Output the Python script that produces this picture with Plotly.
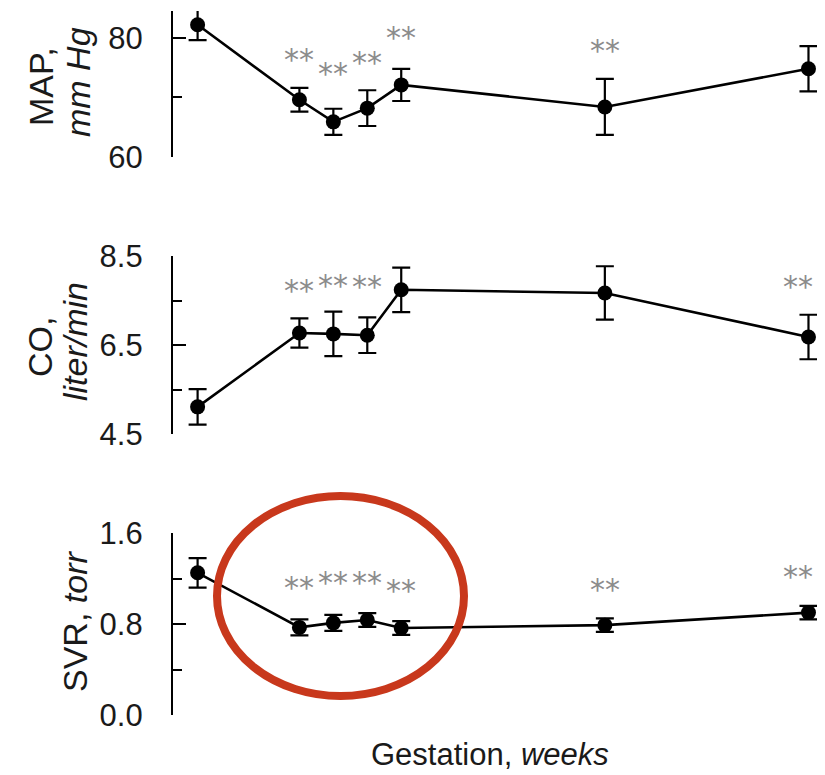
import plotly.graph_objects as go

# ---- data ----
weeks = [0, 6, 8, 10, 12, 24, 36]

map_mean = [82.2, 69.6, 65.9, 68.2, 72.1, 68.4, 74.8]
map_err = [2.6, 2.0, 2.2, 3.0, 2.7, 4.7, 3.8]
map_sig = [False, True, True, True, True, True, False]
map_star_y = [None, 77.3, 75.1, 76.8, 81.0, 78.8, None]

co_mean = [5.11, 6.77, 6.75, 6.72, 7.74, 7.67, 6.68]
co_err = [0.40, 0.33, 0.50, 0.40, 0.50, 0.60, 0.50]
co_sig = [False, True, True, True, True, True, True]
co_star_y = [None, 7.87, 7.98, 7.94, 8.97, 9.02, 7.96]

svr_mean = [1.25, 0.77, 0.81, 0.835, 0.765, 0.79, 0.90]
svr_err = [0.13, 0.07, 0.07, 0.06, 0.06, 0.06, 0.06]
svr_sig = [False, True, True, True, True, True, True]
svr_star_y = [None, 1.17, 1.22, 1.22, 1.15, 1.16, 1.27]

map_ticks = [60, 80]
map_minor = [70]
co_ticks = [4.5, 6.5, 8.5]
co_ticklabels = ["4.5", "6.5", "8.5"]
co_minor = [5.5, 7.5]
svr_ticks = [0.0, 0.8, 1.6]
svr_ticklabels = ["0.0", "0.8", "1.6"]
svr_minor = [0.4, 1.2]

# ---- layout helpers ----
OFF = 8                      # page body margin
W, H = 825 - OFF, 775 - OFF  # figure fills the window below/right of the body margin
ML = 173 - OFF               # y axis at page x = 173
PR = 819 - OFF               # plot right edge at page x = 819
MR = W - PR
PW = PR - ML
XR = [-1.45, 36.62]
VIS_RIGHT = 815              # keep text left of this page x
FONT = "Liberation Sans, Arial, Helvetica, sans-serif"
TXT = "#1a1a1a"
STAR = "#8c8c8c"
STAR_SIZE = 30


def px_x(p):
    return (p - OFF - ML) / PW


def px_y(p):
    return 1 - (p - OFF) / H


def week_to_px(w):
    return OFF + ML + (w - XR[0]) / (XR[1] - XR[0]) * PW


panels = [
    (map_mean, map_err, map_sig, map_star_y, "y", [60, 84.5], map_ticks, None, map_minor, (157, 11)),
    (co_mean, co_err, co_sig, co_star_y, "y2", [4.5, 8.5], co_ticks, co_ticklabels, co_minor, (434, 256)),
    (svr_mean, svr_err, svr_sig, svr_star_y, "y3", [0, 1.6], svr_ticks, svr_ticklabels, svr_minor, (715, 533)),
]

fig = go.Figure()
annotations = []
layout_axes = {}

for i, (mean, err, sig, stary, yref, rng, tv, tt, mv, (pb, pt)) in enumerate(panels):
    xname = "x" if i == 0 else f"x{i+1}"
    fig.add_trace(go.Scatter(
        x=weeks, y=mean, xaxis=xname, yaxis=yref,
        mode="lines+markers",
        line=dict(color="black", width=2.6),
        marker=dict(color="black", size=15, symbol="circle"),
        error_y=dict(type="data", array=err, visible=True, color="black", thickness=2.2, width=9),
        cliponaxis=False, showlegend=False, hoverinfo="skip",
    ))
    for w, s, sy in zip(weeks, sig, stary):
        if s:
            half = STAR_SIZE / 2
            xp = week_to_px(w)
            if xp + half > VIS_RIGHT:
                anchor, shift = "right", VIS_RIGHT - xp
            else:
                anchor, shift = "center", 0
            annotations.append(dict(
                x=w, y=sy, xref=xname, yref=yref, text="**", showarrow=False,
                font=dict(family="DejaVu Sans", size=STAR_SIZE, color=STAR),
                xanchor=anchor, xshift=shift, yanchor="middle", yshift=-6,
            ))
    xk = "xaxis" if i == 0 else f"xaxis{i+1}"
    yk = "yaxis" if i == 0 else f"yaxis{i+1}"
    layout_axes[xk] = dict(range=XR, visible=False, domain=[0, 1],
                           anchor=yref, automargin=False)
    yax = dict(
        range=rng, domain=[px_y(pb), px_y(pt)], anchor=xname, automargin=False,
        showline=True, linecolor="black", linewidth=2.2,
        showgrid=False, zeroline=False,
        ticks="inside", ticklen=13, tickwidth=2, tickcolor="black",
        tickmode="array", tickvals=tv,
        tickfont=dict(family=FONT, size=31, color=TXT),
        ticklabelstandoff=22,
        minor=dict(ticks="inside", ticklen=9, tickwidth=2, tickcolor="black",
                   tickmode="array", tickvals=mv),
    )
    if tt is not None:
        yax["ticktext"] = tt
    layout_axes[yk] = yax

# y-axis titles
ylabels = [
    ("MAP,", 41, 87),
    ("<i>mm Hg</i>", 78, 82),
    ("CO,", 40, 347),
    ("<i>liter/min</i>", 75, 342),
    ("SVR, <i>torr</i>", 75, 622),
]
for txt, cx, cy in ylabels:
    annotations.append(dict(
        x=px_x(cx), y=px_y(cy), xref="paper", yref="paper", text=txt,
        showarrow=False, textangle=-90, xanchor="center", yanchor="middle",
        font=dict(family=FONT, size=34, color=TXT),
    ))

# x title
annotations.append(dict(
    x=px_x(490), y=px_y(754), xref="paper", yref="paper",
    text="Gestation, <i>weeks</i>", showarrow=False,
    xanchor="center", yanchor="middle",
    font=dict(family=FONT, size=31, color=TXT),
))

fig.update_layout(
    template="none",
    width=W, height=H,
    margin=dict(l=ML, r=MR, t=0, b=0, pad=0, autoexpand=False),
    paper_bgcolor="white", plot_bgcolor="white",
    showlegend=False,
    annotations=annotations,
    shapes=[dict(
        type="circle", xref="paper", yref="paper",
        x0=px_x(217), x1=px_x(464), y0=px_y(696), y1=px_y(496),
        line=dict(color="#c8381c", width=8), layer="above",
    )],
    **layout_axes,
)

fig.write_html("out.html")
